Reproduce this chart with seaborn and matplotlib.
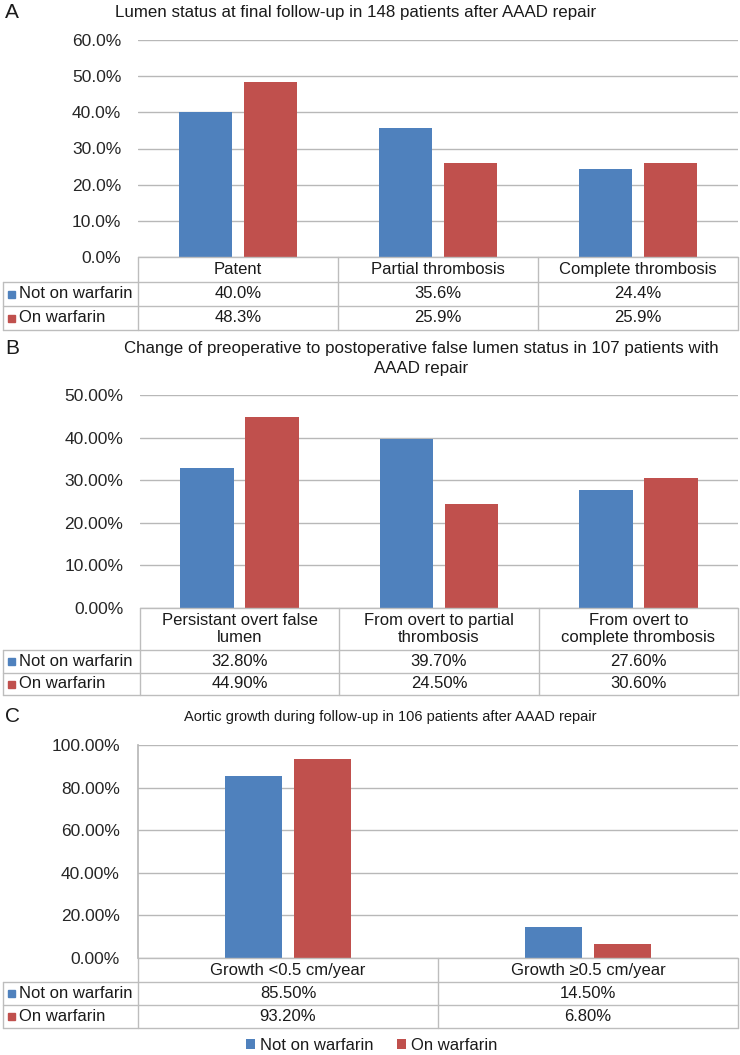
import matplotlib
matplotlib.use("Agg")
import matplotlib.pyplot as plt
import seaborn as sns
import pandas as pd
from matplotlib.lines import Line2D
from matplotlib.patches import Patch, Rectangle
from matplotlib.ticker import MultipleLocator, FuncFormatter

# ---------------- data ----------------
groups = ["Not on warfarin", "On warfarin"]
colors = ["#4F81BD", "#C0504D"]

a_title = ["Lumen status at final follow-up in 148 patients after AAAD repair"]
a_cats = ["Patent", "Partial thrombosis", "Complete thrombosis"]
a_not = [40.0, 35.6, 24.4]
a_on = [48.3, 25.9, 25.9]

b_title = ["Change of preoperative to postoperative false lumen status in 107 patients with",
           "AAAD repair"]
b_cats = ["Persistant overt false\nlumen", "From overt to partial\nthrombosis",
          "From overt to\ncomplete thrombosis"]
b_not = [32.80, 39.70, 27.60]
b_on = [44.90, 24.50, 30.60]

c_title = ["Aortic growth during follow-up in 106 patients after AAAD repair"]
c_cats = ["Growth <0.5 cm/year", "Growth \u22650.5 cm/year"]
c_not = [85.50, 14.50]
c_on = [93.20, 6.80]

# ---------------- style ----------------
sns.set_theme(style="white")
plt.rcParams["font.family"] = ["Liberation Sans", "DejaVu Sans"]
plt.rcParams["text.color"] = "#1a1a1a"

W, H = 740, 1055
fig = plt.figure(figsize=(W / 100, H / 100), dpi=100)
fig.patch.set_facecolor("white")

GRID = "#b8b8b8"
BORDER = "#bdbdbd"


def fx(x):
    return x / W


def fy(y):
    return 1 - y / H


def hline(x0, x1, y, color=BORDER, lw=1.0):
    fig.add_artist(Line2D([fx(x0), fx(x1)], [fy(y), fy(y)], transform=fig.transFigure,
                          color=color, lw=lw))


def vline(x, y0, y1, color=BORDER, lw=1.0):
    fig.add_artist(Line2D([fx(x), fx(x)], [fy(y0), fy(y1)], transform=fig.transFigure,
                          color=color, lw=lw))


def panel(label, title_lines, title_y, title_x, title_size, box, cats, v_not, v_on,
          ymax, step, dec, rows, width, gap, yaxis_line):
    x0, x1, ytop, ybot = box
    # label + title
    fig.text(fx(5), fy(title_y[0]), label, fontsize=15, ha="left", va="center")
    for t, ty in zip(title_lines, title_y):
        fig.text(fx(title_x), fy(ty), t, fontsize=title_size, ha="center", va="center")

    ax = fig.add_axes([fx(x0), fy(ybot), (x1 - x0) / W, (ybot - ytop) / H])
    df = pd.DataFrame({
        "cat": list(cats) * 2,
        "group": [groups[0]] * len(cats) + [groups[1]] * len(cats),
        "val": list(v_not) + list(v_on),
    })
    sns.barplot(data=df, x="cat", y="val", hue="group", hue_order=groups,
                palette=colors, width=width, gap=gap, ax=ax, legend=False,
                edgecolor="none", linewidth=0, saturation=1)
    ax.set_ylim(0, ymax)
    ax.set_xlim(-0.5, len(cats) - 0.5)
    ax.yaxis.set_major_locator(MultipleLocator(step))
    ax.yaxis.set_major_formatter(FuncFormatter(lambda v, p: f"{v:.{dec}f}%"))
    ax.set_axisbelow(True)
    ax.grid(axis="y", color=GRID, lw=1.0)
    ax.set_xlabel("")
    ax.set_ylabel("")
    ax.set_xticks([])
    for s in ax.spines.values():
        s.set_visible(False)
    if yaxis_line:
        ax.spines["left"].set_visible(True)
        ax.spines["left"].set_color(GRID)
        ax.tick_params(axis="y", length=5, color=GRID, pad=8, labelsize=12.5)
    else:
        ax.tick_params(axis="y", length=0, pad=12, labelsize=12.5)

    # ----- data table -----
    hb, r1, r2 = rows
    ncol = len(cats)
    cw = (x1 - x0) / ncol
    hline(x0, x1, ybot)
    hline(3, x1, hb)
    hline(3, x1, r1)
    hline(3, x1, r2)
    vline(3, hb, r2)
    for i in range(ncol + 1):
        vline(x0 + i * cw, ybot, r2)
    for i, c in enumerate(cats):
        cx = x0 + (i + 0.5) * cw
        fig.text(fx(cx), fy((ybot + hb) / 2), c, fontsize=12, ha="center", va="center",
                 linespacing=1.15)
        fig.text(fx(cx), fy((hb + r1) / 2), f"{v_not[i]:.{dec}f}%", fontsize=12,
                 ha="center", va="center")
        fig.text(fx(cx), fy((r1 + r2) / 2), f"{v_on[i]:.{dec}f}%", fontsize=12,
                 ha="center", va="center")
    for g, col, (ya, yb) in zip(groups, colors, [(hb, r1), (r1, r2)]):
        yc = (ya + yb) / 2
        fig.add_artist(Rectangle((fx(8), fy(yc + 3.5)), 7 / W, 7 / H,
                                 transform=fig.transFigure, color=col))
        fig.text(fx(19), fy(yc), g, fontsize=12, ha="left", va="center")
    return ax


panel("A", a_title, [12], 356, 12.2, (138, 738, 40, 257), a_cats, a_not, a_on,
      60, 10, 1, (282, 306, 330), 0.65, 0.17, False)
panel("B", b_title, [348, 368], 421, 12.2, (140, 738, 395, 608), b_cats, b_not, b_on,
      50, 10, 2, (650, 673, 695), 0.65, 0.17, False)
panel("C", c_title, [717], 390, 10.5, (138, 738, 745, 958), c_cats, c_not, c_on,
      100, 20, 2, (982, 1005, 1028), 0.46, 0.17, True)

handles = [Patch(facecolor=c, edgecolor="none") for c in colors]
fig.legend(handles, groups, loc="center", bbox_to_anchor=(fx(372), fy(1045)), ncol=2,
           frameon=False, fontsize=12, handlelength=0.55, handleheight=0.55,
           handletextpad=0.3, columnspacing=1.4)

fig.savefig("out.png", dpi=100, facecolor="white")
